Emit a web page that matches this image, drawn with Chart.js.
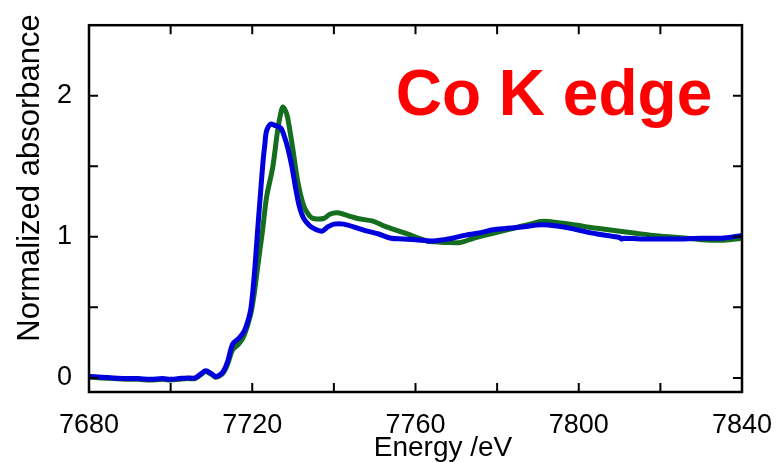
<!DOCTYPE html>
<html>
<head>
<meta charset="utf-8">
<script src="https://cdn.jsdelivr.net/npm/chart.js@4"></script>
<style>
  body { margin: 0; background: #fff; }
  #wrap { width: 784px; height: 462px; }
</style>
</head>
<body>
<div id="wrap"><canvas id="canvas-xanes"></canvas></div>
<script>
// Co K edge XANES, two samples
const energyBlue = [7680, 7683, 7686, 7689, 7692, 7695, 7698, 7700, 7702, 7704, 7706, 7707.5, 7708.6, 7710, 7711, 7712, 7713, 7714, 7715.2, 7716.7, 7718, 7718.9, 7719.6, 7720.1, 7720.7, 7721.3, 7722, 7722.6, 7723.1, 7723.5, 7724.5, 7725.5, 7727, 7728, 7728.7, 7729.7, 7730.6, 7731.5, 7732.6, 7734, 7735, 7737, 7738.5, 7740, 7742.4, 7746, 7748.2, 7751, 7754, 7757, 7760, 7764, 7767, 7769, 7772, 7776, 7779, 7782.5, 7786, 7791, 7795, 7798, 7801, 7804.5, 7808, 7810, 7810.4, 7811, 7815, 7820, 7826, 7830, 7835, 7840];
const absBlue = [0.01, 0.005, 0.0, -0.005, -0.005, -0.01, -0.005, -0.01, -0.005, 0.0, 0.0, 0.03, 0.05, 0.03, 0.01, 0.02, 0.05, 0.12, 0.24, 0.28, 0.33, 0.40, 0.48, 0.60, 0.80, 1.04, 1.30, 1.52, 1.66, 1.75, 1.80, 1.79, 1.77, 1.70, 1.63, 1.50, 1.35, 1.22, 1.13, 1.08, 1.06, 1.04, 1.07, 1.09, 1.09, 1.06, 1.04, 1.02, 0.99, 0.985, 0.98, 0.97, 0.98, 0.99, 1.01, 1.03, 1.05, 1.06, 1.07, 1.085, 1.075, 1.06, 1.04, 1.02, 1.005, 0.995, 0.985, 0.99, 0.985, 0.985, 0.985, 0.99, 0.99, 1.01];

const energyGreen = [7680, 7683, 7686, 7689, 7692, 7695, 7698, 7700, 7702, 7704, 7706, 7707.5, 7708.6, 7710, 7711, 7712, 7713, 7714, 7715.2, 7716.7, 7718, 7719.6, 7720.5, 7721.3, 7722.5, 7723.5, 7725, 7726.2, 7727, 7727.5, 7728.2, 7728.7, 7729.9, 7731.1, 7732.6, 7734, 7735, 7737.5, 7739, 7740.9, 7743.4, 7745.8, 7749.7, 7752, 7753.9, 7758, 7762.9, 7765, 7767.8, 7771, 7774.2, 7778.3, 7784, 7788, 7791.3, 7795, 7797.9, 7801, 7804.5, 7810.1, 7814, 7818.2, 7822, 7826.5, 7830, 7834.6, 7837, 7840];
const absGreen = [0.005, 0.0, -0.005, -0.01, -0.01, -0.015, -0.01, -0.015, -0.01, -0.005, -0.005, 0.025, 0.045, 0.025, 0.005, 0.015, 0.04, 0.10, 0.20, 0.24, 0.30, 0.45, 0.60, 0.78, 1.04, 1.28, 1.49, 1.75, 1.88, 1.92, 1.89, 1.84, 1.63, 1.40, 1.22, 1.15, 1.13, 1.13, 1.16, 1.17, 1.15, 1.13, 1.11, 1.08, 1.06, 1.02, 0.97, 0.965, 0.96, 0.96, 0.99, 1.02, 1.06, 1.09, 1.11, 1.10, 1.09, 1.075, 1.06, 1.04, 1.025, 1.01, 1.0, 0.99, 0.98, 0.975, 0.98, 0.99];

const xTicks = [7680, 7720, 7760, 7800, 7840];
const yTicks = [0, 1, 2];

const FONT = '"Liberation Sans", Arial, sans-serif';

function points(xs, ys) {
  return xs.map(function (x, i) { return { x: x, y: ys[i] }; });
}

// frame with inward ticks on all four sides, plus the free text
const framePlugin = {
  id: 'frame',
  afterDraw: function (chart) {
    const ctx = chart.ctx;
    const a = chart.chartArea;
    const xs = chart.scales.x;
    const ys = chart.scales.y;
    const len = 9;
    ctx.save();
    ctx.strokeStyle = '#000';
    ctx.lineWidth = 2;
    ctx.beginPath();
    for (let v = 7700; v < 7840; v += 20) {
      const px = xs.getPixelForValue(v);
      ctx.moveTo(px, a.bottom); ctx.lineTo(px, a.bottom - len);
      ctx.moveTo(px, a.top); ctx.lineTo(px, a.top + len);
    }
    for (let v = 0; v <= 2; v += 0.5) {
      const py = ys.getPixelForValue(v);
      ctx.moveTo(a.left, py); ctx.lineTo(a.left + len, py);
      ctx.moveTo(a.right, py); ctx.lineTo(a.right - len, py);
    }
    ctx.stroke();
    ctx.lineWidth = 2.5;
    ctx.strokeRect(a.left, a.top, a.right - a.left, a.bottom - a.top);

    ctx.fillStyle = '#ff0000';
    ctx.font = 'bold 64px ' + FONT;
    ctx.textAlign = 'center';
    ctx.textBaseline = 'alphabetic';
    ctx.fillText('Co K edge', 554, 115);

    ctx.fillStyle = '#000';
    ctx.font = '28px ' + FONT;
    ctx.fillText('Energy /eV', 443, 456);

    ctx.translate(39, 178);
    ctx.rotate(-Math.PI / 2);
    ctx.font = '31px ' + FONT;
    ctx.fillText('Normalized absorbance', 0, 0);
    ctx.restore();
  }
};

window.addEventListener('DOMContentLoaded', function () {
  new Chart(document.getElementById('canvas-xanes'), {
    type: 'line',
    data: {
      datasets: [
        {
          label: 'reference',
          data: points(energyBlue, absBlue),
          borderColor: '#0000dc',
          borderWidth: 5,
          pointRadius: 0,
          tension: 0.3
        },
        {
          label: 'sample',
          data: points(energyGreen, absGreen),
          borderColor: '#146e1e',
          borderWidth: 5,
          pointRadius: 0,
          tension: 0.3
        }
      ]
    },
    options: {
      responsive: true,
      maintainAspectRatio: false,
      animation: false,
      layout: { padding: { top: 23, right: 42, left: 0, bottom: 0 } },
      plugins: {
        legend: { display: false },
        tooltip: { enabled: false }
      },
      scales: {
        x: {
          type: 'linear',
          min: 7680,
          max: 7840,
          grid: { display: false },
          border: { display: false },
          afterBuildTicks: function (s) { s.ticks = xTicks.map(function (v) { return { value: v }; }); },
          afterFit: function (s) { s.height = 70; },
          ticks: {
            color: '#000', font: { family: FONT, size: 27 }, padding: 9, maxRotation: 0,
            callback: function (v) { return String(v); }
          }
        },
        y: {
          min: -0.1,
          max: 2.5,
          grid: { display: false },
          border: { display: false },
          afterBuildTicks: function (s) { s.ticks = yTicks.map(function (v) { return { value: v }; }); },
          afterFit: function (s) { s.width = 89; },
          ticks: {
            color: '#000', font: { family: FONT, size: 27 }, padding: 9,
            callback: function (v) { return String(v); }
          }
        }
      }
    },
    plugins: [framePlugin]
  });
});
</script>
</body>
</html>
